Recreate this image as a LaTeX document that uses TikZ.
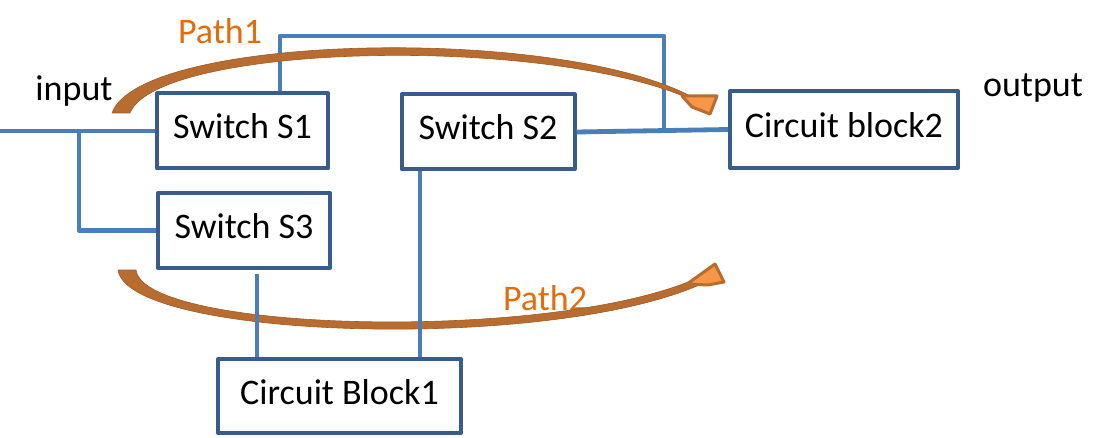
\documentclass[tikz,border=0pt]{standalone}
\usepackage{fontspec}
\setmainfont{Carlito}
\definecolor{boxblue}{HTML}{385D8A}
\definecolor{wireblue}{HTML}{4A7EBB}
\definecolor{pathbrown}{HTML}{B96C2F}
\definecolor{pathlight}{HTML}{F79646}
\definecolor{pathtext}{HTML}{E46C0A}
\begin{document}
\begin{tikzpicture}[x=1pt, y=-1pt, font=\fontsize{36}{40}\selectfont, line join=round,
		box/.style={draw=boxblue, line width=4pt, minimum width=#1, minimum height=75pt, inner sep=0pt},
		wire/.style={draw=wireblue, line width=4.8pt},
		pathbody/.style={fill=pathbrown, draw=pathbrown!85!black, line width=0.6pt},
		pathhead/.style={fill=pathlight, draw=pathbrown, line width=3pt}]
				\useasboundingbox (0,0) rectangle (1110,438);
				% blocks
				\node[box=171pt] (s1) at (242.5,131) {\strut Switch S1};
				\node[box=173pt] (s2) at (488,132) {\strut Switch S2};
				\node[box=172pt] (s3) at (244,230.5) {\strut Switch S3};
				\node[box=228pt, minimum height=77pt] (cb2) at (844,129.5) {\strut Circuit block2};
				\node[box=243pt, minimum height=74pt] (cb1) at (339.5,396) {\strut Circuit Block1};
				% labels
				\node (in) at (74,93) {\strut input};
				\node (out) at (1033,89) {\strut output};
				\node[text=pathtext] (p1) at (220,36) {\strut Path1};
				\node[text=pathtext] (p2) at (545,302) {\strut Path2};
				% path 2 (under the wires)
				\fill[pathbody] (118,270) .. controls (128,340) and (560,353) .. (708,281) -- (702,276) .. controls (560,343) and (144,333) .. (136,270) -- cycle;
				\filldraw[pathhead] (687,284) -- (715,264) -- (724,282) -- (708,285) -- cycle;
				% wires
				\coordinate (src) at (0,131);
				\coordinate (j1) at (79,131);
				\coordinate (j3) at (664,130.5);
				\coordinate (top) at (664,36);
				\draw[wire] (src) -- (s1.west);
				\draw[wire] (j1) |- (s3.west);
				\draw[wire] ([xshift=37.5pt]s1.north) |- (top) -- (j3);
				\draw[wire] (s2.east) -- (cb2.west);
				\draw[wire] ([xshift=-68pt]s2.south) -- ([xshift=-68pt]s2.south |- cb1.north);
				\draw[wire] ([xshift=13pt,yshift=-4pt]s3.south) -- ([xshift=13pt]s3.south |- cb1.north);
				% path 1 (over the wires)
				\fill[pathbody] (112,113) .. controls (140,34) and (560,24) .. (694,98) -- (701,104) .. controls (560,33) and (158,43) .. (130,113) -- cycle;
				\filldraw[pathhead] (682,96) -- (717,96) -- (710,114) -- (692,107) -- cycle;
		\end{tikzpicture}
\end{document}
